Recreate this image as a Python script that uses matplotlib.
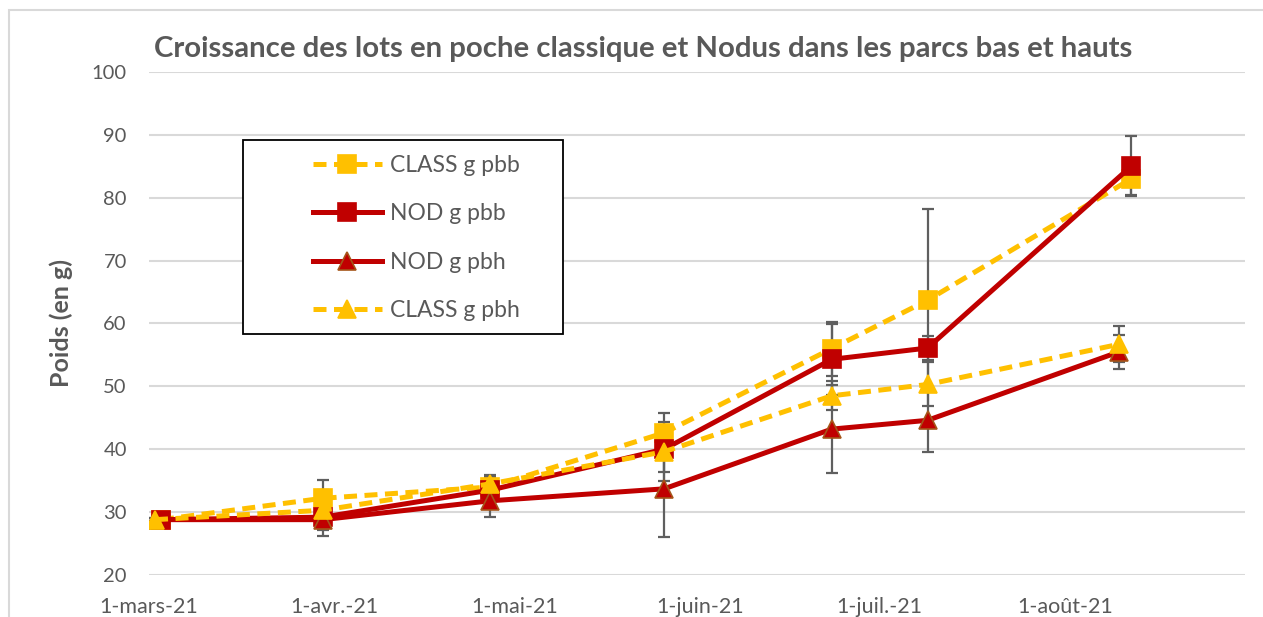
import matplotlib
matplotlib.use("Agg")
import matplotlib.pyplot as plt
from matplotlib.patches import Rectangle
from datetime import date

plt.rcParams['font.family'] = ['Lato', 'DejaVu Sans']

# dates de mesure (parcs bas / parcs hauts)
dates_pbb = [date(2021, 3, 3), date(2021, 3, 30), date(2021, 4, 27), date(2021, 5, 26),
             date(2021, 6, 23), date(2021, 7, 9), date(2021, 8, 12)]
dates_pbh = [date(2021, 3, 2), date(2021, 3, 30), date(2021, 4, 27), date(2021, 5, 26),
             date(2021, 6, 23), date(2021, 7, 9), date(2021, 8, 10)]

class_pbb = [28.8, 32.2, 34.0, 42.6, 56.0, 63.7, 83.0]
class_pbb_err = [0.2, 2.9, 1.0, 3.2, 4.3, 14.5, 2.6]
nod_pbb = [28.8, 29.2, 33.5, 40.0, 54.3, 56.1, 85.0]
nod_pbb_err = [0.2, 1.0, 2.1, 3.6, 5.6, 1.9, 4.8]
nod_pbh = [28.8, 28.8, 31.8, 33.7, 43.2, 44.6, 55.5]
nod_pbh_err = [0.2, 2.6, 2.5, 7.6, 7.0, 5.0, 2.7]
class_pbh = [28.8, 30.3, 34.5, 39.6, 48.5, 50.3, 56.7]
class_pbh_err = [0.2, 3.2, 1.4, 4.7, 2.3, 3.5, 2.9]

tick_dates = [date(2021, 3, 1), date(2021, 4, 1), date(2021, 5, 1),
              date(2021, 6, 1), date(2021, 7, 1), date(2021, 8, 1)]
tick_labels = ['1-mars-21', '1-avr.-21', '1-mai-21', '1-juin-21', '1-juil.-21', '1-août-21']

jaune = '#FFC000'
rouge = '#C00000'
gris = '#595959'

fig = plt.figure(figsize=(12.63, 6.17), dpi=100)
ax = fig.add_axes([0.118, 0.0681, 0.8677, 0.8152])

# cadre du graphique
fig.patches.append(Rectangle((9 / 1263, -0.2), 1.2, (617 - 10) / 617 + 0.2,
                             transform=fig.transFigure, fill=False,
                             edgecolor='#D9D9D9', lw=1.5))

series = [
    (dates_pbb, class_pbb, class_pbb_err, 'CLASS g pbb', jaune, '--', 's', jaune),
    (dates_pbb, nod_pbb, nod_pbb_err, 'NOD g pbb', rouge, '-', 's', rouge),
    (dates_pbh, nod_pbh, nod_pbh_err, 'NOD g pbh', rouge, '-', '^', '#A5561A'),
    (dates_pbh, class_pbh, class_pbh_err, 'CLASS g pbh', jaune, '--', '^', jaune),
]

for i, (x, y, e, lab, c, ls, mk, ec) in enumerate(series):
    ax.errorbar(x, y, yerr=e, fmt='none', ecolor='#5F5F5F', elinewidth=1.6,
                capsize=4.6, capthick=1.6, zorder=2 + i * 0.1)
    line, = ax.plot(x, y, color=c, ls=ls, lw=3.6, marker=mk, markersize=12.5,
                    markerfacecolor=c, markeredgecolor=ec, markeredgewidth=1.2,
                    label=lab, zorder=3 + i * 0.1)
    if ls == '--':
        line.set_dashes((2.6, 1.5))

ax.set_ylim(20, 100)
ax.set_yticks(range(20, 101, 10))
ax.set_xlim(date(2021, 3, 1), date(2021, 8, 31))
ax.set_xticks(tick_dates)
ax.set_xticklabels(tick_labels)

ax.yaxis.grid(True, color='#D9D9D9', lw=1.5)
ax.set_axisbelow(True)
for s in ax.spines.values():
    s.set_visible(False)
ax.tick_params(axis='both', length=0, labelcolor=gris)
ax.tick_params(axis='y', pad=16, labelsize=14.5)
ax.tick_params(axis='x', pad=16, labelsize=15.5)

ax.set_ylabel('Poids (en g)', fontsize=18, fontweight='bold', color=gris)
ax.yaxis.set_label_coords(-0.069, 0.5)

fig.text(0.509, 0.921, 'Croissance des lots en poche classique et Nodus dans les parcs bas et hauts',
         ha='center', va='center', fontsize=21.2, fontweight='bold', color=gris)

# légende
ax.add_patch(Rectangle((0.0858, 0.479), 0.2919, 0.386, transform=ax.transAxes,
                       facecolor='white', edgecolor='black', lw=1.3, zorder=4))
leg = ax.legend(loc='upper left', bbox_to_anchor=(0.1496, 0.835), frameon=False,
                fontsize=16.5, labelcolor=gris, handlelength=3.0, handletextpad=0.35,
                labelspacing=1.2, borderpad=0, borderaxespad=0)
leg.set_zorder(5)

fig.savefig('out.png', dpi=100)
